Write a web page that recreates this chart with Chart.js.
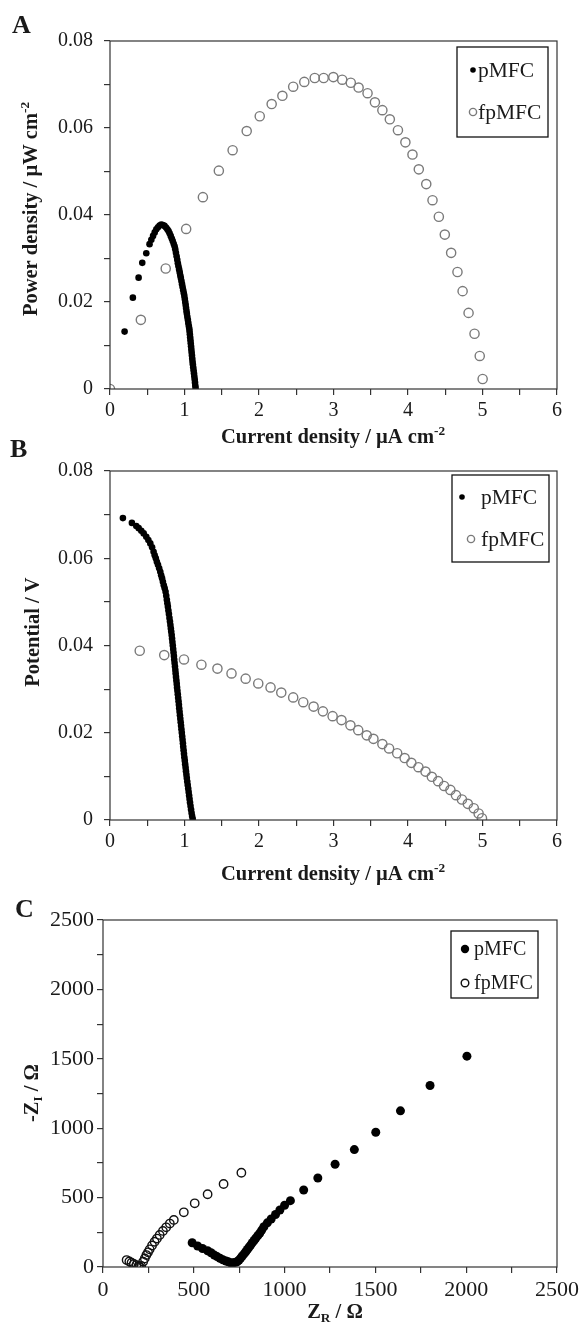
<!DOCTYPE html>
<html>
<head>
    <title>pMFC / fpMFC performance</title>
    <script src="https://cdn.jsdelivr.net/npm/chart.js"></script>
    <style>
        body { margin: 0; background: #fff; width: 583px; height: 1328px; position: relative; }
        canvas { position: absolute; left: 0; }
    </style>
</head>
<body>
    <canvas id="chartA" width="583" height="450" style="top:0px"></canvas>
    <canvas id="chartB" width="583" height="455" style="top:430px"></canvas>
    <canvas id="chartC" width="583" height="443" style="top:885px"></canvas>
    <script>
        const seriesNames = ['pMFC', 'fpMFC'];

        // A - power density (uW cm-2) vs current density (uA cm-2)
        const pmfcCurrentA = [0.196, 0.307, 0.384, 0.433, 0.487, 0.531, 0.555, 0.578, 0.600, 0.622, 0.644, 0.666, 0.688, 0.710, 0.732, 0.752, 0.770, 0.786, 0.800, 0.815, 0.829, 0.842, 0.855, 0.867, 0.876, 0.885, 0.894, 0.903, 0.911, 0.919, 0.928, 0.936, 0.944, 0.951, 0.959, 0.967, 0.975, 0.983, 0.991, 0.998, 1.004, 1.010, 1.016, 1.021, 1.027, 1.032, 1.038, 1.045, 1.051, 1.058, 1.064, 1.068, 1.072, 1.076, 1.080, 1.084, 1.088, 1.092, 1.096, 1.100, 1.104, 1.108, 1.112, 1.117, 1.122, 1.127, 1.132, 1.137, 1.141, 1.145, 1.149];
        const pmfcPowerA = [0.0132, 0.0210, 0.0256, 0.0290, 0.0312, 0.0333, 0.0343, 0.0352, 0.0360, 0.0367, 0.0372, 0.0376, 0.0378, 0.0377, 0.0375, 0.0371, 0.0367, 0.0363, 0.0358, 0.0352, 0.0346, 0.0340, 0.0334, 0.0328, 0.0321, 0.0313, 0.0305, 0.0297, 0.0289, 0.0282, 0.0275, 0.0268, 0.0261, 0.0255, 0.0248, 0.0241, 0.0234, 0.0227, 0.0220, 0.0214, 0.0207, 0.0200, 0.0193, 0.0186, 0.0179, 0.0173, 0.0166, 0.0159, 0.0152, 0.0145, 0.0139, 0.0133, 0.0126, 0.0119, 0.0112, 0.0105, 0.0098, 0.0091, 0.0084, 0.0077, 0.0070, 0.0063, 0.0057, 0.0050, 0.0043, 0.0036, 0.0029, 0.0022, 0.0015, 0.0008, 0.0002];
        const fpmfcCurrentA = [0, 0.414, 0.748, 1.022, 1.247, 1.461, 1.646, 1.835, 2.010, 2.170, 2.314, 2.459, 2.608, 2.748, 2.868, 2.998, 3.117, 3.232, 3.337, 3.457, 3.556, 3.656, 3.756, 3.865, 3.965, 4.060, 4.145, 4.245, 4.329, 4.414, 4.494, 4.579, 4.664, 4.733, 4.813, 4.893, 4.963, 5.002];
        const fpmfcPowerA = [0, 0.0159, 0.0277, 0.0368, 0.0441, 0.0502, 0.0549, 0.0593, 0.0627, 0.0655, 0.0674, 0.0695, 0.0706, 0.0715, 0.0715, 0.0717, 0.0711, 0.0704, 0.0693, 0.0680, 0.0659, 0.0641, 0.0620, 0.0595, 0.0567, 0.0539, 0.0505, 0.0471, 0.0434, 0.0396, 0.0355, 0.0313, 0.0269, 0.0225, 0.0175, 0.0127, 0.0076, 0.0023];

        // B - potential (V) vs current density
        const pmfcCurrentB = [0.173, 0.294, 0.353, 0.385, 0.420, 0.452, 0.487, 0.515, 0.541, 0.565, 0.585, 0.600, 0.615, 0.629, 0.644, 0.660, 0.675, 0.687, 0.699, 0.710, 0.722, 0.734, 0.746, 0.755, 0.763, 0.770, 0.777, 0.784, 0.791, 0.798, 0.805, 0.811, 0.817, 0.822, 0.828, 0.833, 0.838, 0.843, 0.848, 0.853, 0.858, 0.862, 0.867, 0.872, 0.877, 0.881, 0.886, 0.891, 0.896, 0.900, 0.905, 0.910, 0.915, 0.920, 0.925, 0.929, 0.934, 0.939, 0.944, 0.949, 0.954, 0.959, 0.964, 0.969, 0.974, 0.979, 0.983, 0.988, 0.993, 0.998, 1.004, 1.009, 1.015, 1.020, 1.026, 1.031, 1.037, 1.043, 1.050, 1.056, 1.062, 1.068, 1.074, 1.081, 1.088, 1.095, 1.102, 1.110];
        const pmfcPotentialB = [0.0692, 0.0681, 0.0674, 0.0669, 0.0663, 0.0657, 0.0649, 0.0642, 0.0634, 0.0625, 0.0615, 0.0607, 0.0600, 0.0592, 0.0585, 0.0577, 0.0569, 0.0561, 0.0554, 0.0546, 0.0538, 0.0531, 0.0523, 0.0514, 0.0505, 0.0497, 0.0489, 0.0480, 0.0472, 0.0463, 0.0455, 0.0447, 0.0439, 0.0432, 0.0424, 0.0416, 0.0408, 0.0400, 0.0392, 0.0384, 0.0376, 0.0368, 0.0360, 0.0352, 0.0344, 0.0336, 0.0328, 0.0320, 0.0312, 0.0304, 0.0296, 0.0288, 0.0280, 0.0272, 0.0264, 0.0256, 0.0248, 0.0240, 0.0232, 0.0224, 0.0216, 0.0208, 0.0200, 0.0192, 0.0184, 0.0176, 0.0168, 0.0160, 0.0152, 0.0144, 0.0136, 0.0128, 0.0120, 0.0112, 0.0104, 0.0096, 0.0088, 0.0080, 0.0072, 0.0064, 0.0056, 0.0048, 0.0040, 0.0032, 0.0024, 0.0016, 0.0009, 0.0003];
        const fpmfcCurrentB = [0.399, 0.728, 0.993, 1.227, 1.442, 1.631, 1.821, 1.990, 2.155, 2.299, 2.459, 2.594, 2.733, 2.858, 2.988, 3.107, 3.227, 3.332, 3.446, 3.536, 3.656, 3.746, 3.855, 3.955, 4.045, 4.140, 4.235, 4.320, 4.404, 4.484, 4.569, 4.644, 4.724, 4.803, 4.883, 4.948, 4.993];
        const fpmfcPotentialB = [0.0388, 0.0378, 0.0368, 0.0356, 0.0347, 0.0336, 0.0324, 0.0313, 0.0304, 0.0292, 0.0281, 0.0270, 0.0260, 0.0249, 0.0238, 0.0229, 0.0217, 0.0206, 0.0194, 0.0186, 0.0174, 0.0164, 0.0153, 0.0142, 0.0131, 0.0121, 0.0111, 0.0099, 0.0089, 0.0078, 0.0069, 0.0057, 0.0047, 0.0037, 0.0027, 0.0015, 0.0004];

        // C - Nyquist plot, Z_R and -Z_I in ohm
        const pmfcZreal = [491, 521, 548, 576, 595, 613, 628, 644, 660, 677, 690, 704, 718, 731, 740, 749, 758, 767, 777, 786, 795, 804, 813, 822, 832, 841, 852, 863, 874, 886, 905, 926, 950, 974, 1000, 1032, 1105, 1183, 1278, 1384, 1502, 1638, 1801, 2004];
        const pmfcZimag = [175, 151, 133, 117, 103, 86, 75, 63, 52, 43, 37, 31, 30, 34, 40, 50, 64, 79, 95, 110, 126, 142, 158, 175, 191, 207, 225, 243, 266, 290, 318, 346, 378, 411, 445, 478, 555, 641, 740, 846, 971, 1125, 1308, 1519];
        const fpmfcZreal = [130, 145, 157, 170, 184, 195, 202, 210, 221, 230, 239, 248, 257, 270, 284, 297, 312, 330, 348, 368, 390, 445, 505, 576, 664, 762];
        const fpmfcZimag = [50, 40, 31, 22, 14, 6, 2, 8, 38, 62, 86, 106, 127, 155, 182, 205, 231, 260, 286, 313, 339, 394, 459, 524, 598, 679];

        // labelled ticks (minor ticks in between carry no label)
        const currentTickLabels = ['0', '1', '2', '3', '4', '5', '6'];
        const powerTickLabels = ['0', '0.02', '0.04', '0.06', '0.08'];
        const potentialTickLabels = ['0', '0.02', '0.04', '0.06', '0.08'];
        const impedanceTickLabels = ['0', '500', '1000', '1500', '2000', '2500'];

        const serif = "'Liberation Serif', 'Times New Roman', serif";
        const ink = '#1a1a1a';

        function pairs(xs, ys) {
            return xs.map((x, i) => ({ x: x, y: ys[i] }));
        }

        function axis(min, max, step, labels, size, pad, fix) {
            return {
                type: 'linear',
                min: min,
                max: max,
                ticks: {
                    stepSize: step,
                    autoSkip: false,
                    maxRotation: 0,
                    padding: pad,
                    color: ink,
                    font: { family: serif, size: size },
                    callback: v => {
                        const hit = labels.find(l => Math.abs(parseFloat(l) - v) < step / 10);
                        return hit === undefined ? '' : hit;
                    }
                },
                grid: { drawOnChartArea: false, drawTicks: true, tickLength: 6, color: '#333', lineWidth: 1.2 },
                border: { display: false },
                afterFit: fix
            };
        }

        // draws text pieces with super/subscripts; x,y is the centre of the whole string
        function richText(ctx, parts, x, y, size, rotate) {
            ctx.save();
            ctx.translate(x, y);
            if (rotate) ctx.rotate(-Math.PI / 2);
            ctx.textBaseline = 'alphabetic';
            ctx.textAlign = 'left';
            let total = 0;
            parts.forEach(p => {
                const s = p.sup || p.sub ? size * 0.65 : size;
                ctx.font = 'bold ' + s + 'px ' + serif;
                p.w = ctx.measureText(p.t).width;
                total += p.w;
            });
            let cx = -total / 2;
            const base = size * 0.33;
            parts.forEach(p => {
                const s = p.sup || p.sub ? size * 0.65 : size;
                ctx.font = 'bold ' + s + 'px ' + serif;
                let dy = 0;
                if (p.sup) dy = -size * 0.38;
                if (p.sub) dy = size * 0.22;
                ctx.fillText(p.t, cx, base + dy);
                cx += p.w;
            });
            ctx.restore();
        }

        const decorations = {
            id: 'decorations',
            afterDraw(chart, args, o) {
                const ctx = chart.ctx;
                const a = chart.chartArea;
                const top = o.canvasTop;
                ctx.save();
                ctx.fillStyle = ink;

                // closed frame around the plot
                ctx.strokeStyle = '#333';
                ctx.lineWidth = 1.2;
                ctx.strokeRect(a.left, a.top, a.right - a.left, a.bottom - a.top);

                // panel letter
                ctx.font = 'bold 26px ' + serif;
                ctx.textAlign = 'left';
                ctx.textBaseline = 'alphabetic';
                ctx.fillText(o.letter, o.letterAt[0], o.letterAt[1] - top);

                // axis titles
                richText(ctx, o.xTitle, o.xTitleAt[0], o.xTitleAt[1] - top, 20.5, false);
                richText(ctx, o.yTitle, o.yTitleAt[0], o.yTitleAt[1] - top, 20.5, true);

                // legend box
                const lg = o.legend;
                ctx.strokeStyle = '#111';
                ctx.lineWidth = 1.3;
                ctx.strokeRect(lg.box[0], lg.box[1] - top, lg.box[2] - lg.box[0], lg.box[3] - lg.box[1]);
                ctx.font = lg.size + 'px ' + serif;
                ctx.textBaseline = 'middle';
                chart.data.datasets.forEach((ds, i) => {
                    const m = lg.markers[i];
                    const y = lg.rows[i] - top;
                    ctx.beginPath();
                    ctx.arc(m[0], y, m[1], 0, Math.PI * 2);
                    if (ds.pointBackgroundColor !== 'transparent') {
                        ctx.fillStyle = ds.pointBackgroundColor;
                        ctx.fill();
                    } else {
                        ctx.strokeStyle = ds.pointBorderColor;
                        ctx.lineWidth = ds.pointBorderWidth;
                        ctx.stroke();
                    }
                    ctx.fillStyle = ink;
                    ctx.fillText(ds.label, lg.textX, y + 1);
                });
                ctx.restore();
            }
        };

        function makeChart(id, canvasTop, height, box, datasets, xAxis, yAxis, deco) {
            const left = box[0], plotTop = box[1], right = box[2], bottom = box[3];
            deco.canvasTop = canvasTop;
            return new Chart(document.getElementById(id), {
                type: 'scatter',
                data: { datasets: datasets },
                options: {
                    responsive: false,
                    animation: false,
                    devicePixelRatio: 1,
                    events: [],
                    layout: {
                        padding: {
                            left: left - 60,
                            right: 583 - right,
                            top: plotTop - canvasTop,
                            bottom: height - (bottom - canvasTop) - 40
                        }
                    },
                    scales: { x: xAxis, y: yAxis },
                    plugins: {
                        legend: { display: false },
                        tooltip: { enabled: false },
                        decorations: deco
                    }
                },
                plugins: [decorations]
            });
        }

        const fixY = s => { s.width = 60; };
        const fixX = s => { s.height = 40; };

        function filled(label, data, r) {
            return { label: label, data: data, pointRadius: r, pointBackgroundColor: '#000', pointBorderColor: '#000', pointBorderWidth: 0, showLine: false };
        }
        function hollow(label, data, r, color) {
            return { label: label, data: data, pointRadius: r, pointBackgroundColor: 'transparent', pointBorderColor: color, pointBorderWidth: 1.4, showLine: false };
        }

        const currentTitle = [{ t: 'Current density / µA cm' }, { t: '-2', sup: true }];

        makeChart('chartA', 0, 450, [110, 41, 557, 389],
            [filled(seriesNames[0], pairs(pmfcCurrentA, pmfcPowerA), 3.3),
             hollow(seriesNames[1], pairs(fpmfcCurrentA, fpmfcPowerA), 4.6, '#7a7a7a')],
            axis(0, 6, 0.5, currentTickLabels, 20, 4, fixX),
            axis(0, 0.08, 0.01, powerTickLabels, 20, 11, fixY),
            {
                letter: 'A', letterAt: [12, 33],
                xTitle: currentTitle, xTitleAt: [333, 436],
                yTitle: [{ t: 'Power density / µW cm' }, { t: '-2', sup: true }], yTitleAt: [30, 209],
                legend: { box: [457, 47, 548, 137], rows: [70, 112], markers: [[473, 2.8], [473, 3.6]], textX: 478, size: 21.5 }
            });

        makeChart('chartB', 430, 455, [110, 471, 557, 820],
            [filled(seriesNames[0], pairs(pmfcCurrentB, pmfcPotentialB), 3.3),
             hollow(seriesNames[1], pairs(fpmfcCurrentB, fpmfcPotentialB), 4.6, '#7a7a7a')],
            axis(0, 6, 0.5, currentTickLabels, 20, 4, fixX),
            axis(0, 0.08, 0.01, potentialTickLabels, 20, 11, fixY),
            {
                letter: 'B', letterAt: [10, 457],
                xTitle: currentTitle, xTitleAt: [333, 873],
                yTitle: [{ t: 'Potential / V' }], yTitleAt: [32, 632],
                legend: { box: [452, 475, 549, 562], rows: [497, 539], markers: [[462, 2.8], [471, 3.6]], textX: 481, size: 21.5 }
            });

        makeChart('chartC', 885, 443, [103, 920, 560, 1267],
            [filled(seriesNames[0], pairs(pmfcZreal, pmfcZimag), 4.5),
             hollow(seriesNames[1], pairs(fpmfcZreal, fpmfcZimag), 4.2, '#111')],
            axis(0, 2500, 250, impedanceTickLabels, 22, 4, fixX),
            axis(0, 2500, 250, impedanceTickLabels, 22, 3, fixY),
            {
                letter: 'C', letterAt: [15, 917],
                xTitle: [{ t: 'Z' }, { t: 'R', sub: true }, { t: ' / Ω' }], xTitleAt: [335, 1311],
                yTitle: [{ t: '-Z' }, { t: 'I', sub: true }, { t: ' / Ω' }], yTitleAt: [31, 1093],
                legend: { box: [451, 931, 538, 998], rows: [949, 983], markers: [[465, 4.2], [465, 3.8]], textX: 474, size: 20 }
            });
    </script>
</body>
</html>
